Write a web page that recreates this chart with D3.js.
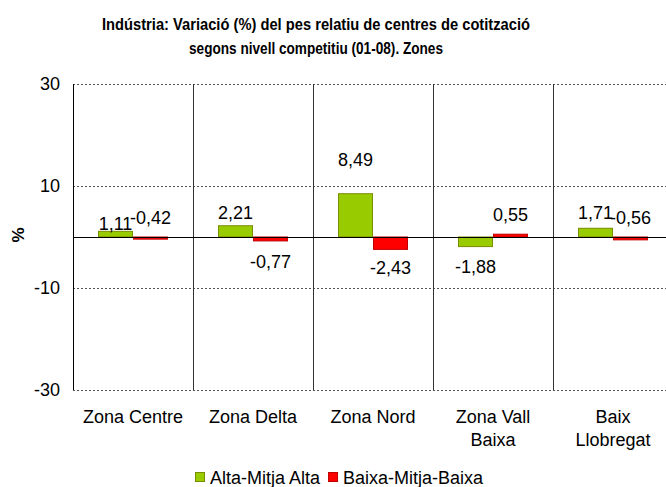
<!DOCTYPE html>
<html>
<head>
<meta charset="utf-8">
<script src="https://cdn.jsdelivr.net/npm/d3@7"></script>
<style>
  body { margin: 0; background: #fff; }
  text { font-family: "Liberation Sans", Arial, sans-serif; fill: #000; }
</style>
</head>
<body>
<div id="chart"></div>
<script>
// data
var zones = ["Zona Centre", "Zona Delta", "Zona Nord", "Zona Vall Baixa", "Baix Llobregat"];
var zoneLines = [["Zona Centre"], ["Zona Delta"], ["Zona Nord"], ["Zona Vall", "Baixa"], ["Baix", "Llobregat"]];
var series = ["Alta-Mitja Alta", "Baixa-Mitja-Baixa"];
var altaValues = [1.11, 2.21, 8.49, -1.88, 1.71];
var baixaValues = [-0.42, -0.77, -2.43, 0.55, -0.56];
// where each value label sits (in % units, as placed in the original)
var altaLabelAt = [2.55, 4.7, 15.2, -5.75, 4.7];
var baixaLabelAt = [3.7, -4.75, -6.1, 4.45, 3.7];
var yTicks = [30, 10, -10, -30];

var colors = { fill: ["#99cc00", "#ff0000"], stroke: ["#7a8c00", "#c00000"] };

// set the dimensions and margins of the graph
var W = 666, H = 487;
var margin = {top: 84, left: 73},
    width = 600,
    height = 306;

var svg = d3.select("#chart")
  .append("svg")
  .attr("width", W)
  .attr("height", H);

var g = svg.append("g")
  .attr("transform", "translate(" + margin.left + "," + margin.top + ")");

// scales
var x = d3.scaleBand().domain(zones).range([0, width]).padding(0);
var xs = d3.scaleBand().domain(series).range([25, 95]).padding(0);
var y = d3.scaleLinear().domain([-30, 30]).range([height, 0]);

// dashed gridlines
g.append("g")
  .selectAll("line")
  .data(yTicks)
  .enter()
  .append("line")
    .attr("x1", 0)
    .attr("x2", width)
    .attr("y1", function(d) { return Math.round(y(d)) + 0.5; })
    .attr("y2", function(d) { return Math.round(y(d)) + 0.5; })
    .style("stroke", "#555")
    .style("stroke-width", 1)
    .style("stroke-dasharray", "2,2");

// category separators
g.append("g")
  .selectAll("line")
  .data(zones.slice(1))
  .enter()
  .append("line")
    .attr("x1", function(d) { return Math.round(x(d)) + 0.5; })
    .attr("x2", function(d) { return Math.round(x(d)) + 0.5; })
    .attr("y1", 0)
    .attr("y2", height)
    .style("stroke", "#333")
    .style("stroke-width", 1);

// Y axis (plain hyphen for negatives, as in the original)
var yAxis = g.append("g")
  .call(d3.axisLeft(y).tickValues(yTicks).tickSize(0).tickPadding(13)
    .tickFormat(function(d) { return String(d); }));
yAxis.select(".domain").remove();
yAxis.selectAll("text")
  .style("font-size", "18px")
  .style("font-family", "Liberation Sans, Arial, sans-serif");
g.append("line")
  .attr("x1", 0.5).attr("x2", 0.5)
  .attr("y1", 0).attr("y2", height)
  .style("stroke", "#000");

// bars
var rows = zones.map(function(z, i) {
  return [
    {zone: z, s: series[0], v: altaValues[i], at: altaLabelAt[i], k: 0},
    {zone: z, s: series[1], v: baixaValues[i], at: baixaLabelAt[i], k: 1}
  ];
});
var flat = [].concat.apply([], rows);

g.selectAll(".bar")
  .data(flat)
  .enter()
  .append("rect")
    .attr("class", "bar")
    .attr("x", function(d) { return x(d.zone) + xs(d.s) + 0.5; })
    .attr("y", function(d) { return y(Math.max(0, d.v)); })
    .attr("width", xs.bandwidth() - 1)
    .attr("height", function(d) { return Math.abs(y(d.v) - y(0)); })
    .style("fill", function(d) { return colors.fill[d.k]; })
    .style("stroke", function(d) { return colors.stroke[d.k]; })
    .style("stroke-width", 1);

// zero line
g.append("line")
  .attr("x1", 0).attr("x2", width)
  .attr("y1", Math.round(y(0)) + 0.5).attr("y2", Math.round(y(0)) + 0.5)
  .style("stroke", "#000");

// value labels
var fmt = function(v) { return v.toFixed(2).replace(".", ","); };
g.selectAll(".lbl")
  .data(flat)
  .enter()
  .append("text")
    .attr("class", "lbl")
    .attr("x", function(d) { return x(d.zone) + xs(d.s) + xs.bandwidth() / 2; })
    .attr("y", function(d) { return y(d.at); })
    .attr("dy", "0.35em")
    .attr("text-anchor", "middle")
    .style("font-size", "18px")
    .text(function(d) { return fmt(d.v); });

// category labels
var cat = g.append("g").attr("transform", "translate(0," + height + ")");
cat.selectAll("text")
  .data(zoneLines)
  .enter()
  .append("text")
    .attr("x", function(d, i) { return x(zones[i]) + x.bandwidth() / 2; })
    .attr("y", 33)
    .attr("text-anchor", "middle")
    .style("font-size", "18px")
    .each(function(d) {
      var t = d3.select(this);
      d.forEach(function(line, j) {
        t.append("tspan")
          .attr("x", t.attr("x"))
          .attr("dy", j === 0 ? 0 : 23)
          .text(line);
      });
    });

// y title
svg.append("text")
  .attr("transform", "translate(24,235) rotate(-90)")
  .attr("text-anchor", "middle")
  .style("font-size", "17px")
  .style("font-weight", "bold")
  .text("%");

// chart title (the original face is a bit narrower)
var title = ["Indústria: Variació (%) del pes relatiu de centres de cotització",
             "segons nivell competitiu (01-08). Zones"];
var titleLen = [428, 254];
svg.append("g")
  .selectAll("text")
  .data(title)
  .enter()
  .append("text")
    .attr("x", 316)
    .attr("y", function(d, i) { return 30 + i * 24; })
    .attr("text-anchor", "middle")
    .attr("textLength", function(d, i) { return titleLen[i]; })
    .attr("lengthAdjust", "spacingAndGlyphs")
    .style("font-size", "17px")
    .style("font-weight", "bold")
    .text(function(d) { return d; });

// legend
var legend = svg.append("g").attr("transform", "translate(195,472)");
var lx = 0;
series.forEach(function(s, i) {
  var item = legend.append("g").attr("transform", "translate(" + lx + ",0)");
  item.append("rect")
    .attr("x", 0.5).attr("y", 0.5)
    .attr("width", 9).attr("height", 9)
    .style("fill", colors.fill[i])
    .style("stroke", colors.stroke[i]);
  var t = item.append("text")
    .attr("x", 15).attr("y", 12)
    .style("font-size", "18px")
    .text(s);
  lx += 15 + t.node().getComputedTextLength() + 8;
});
</script>
</body>
</html>
